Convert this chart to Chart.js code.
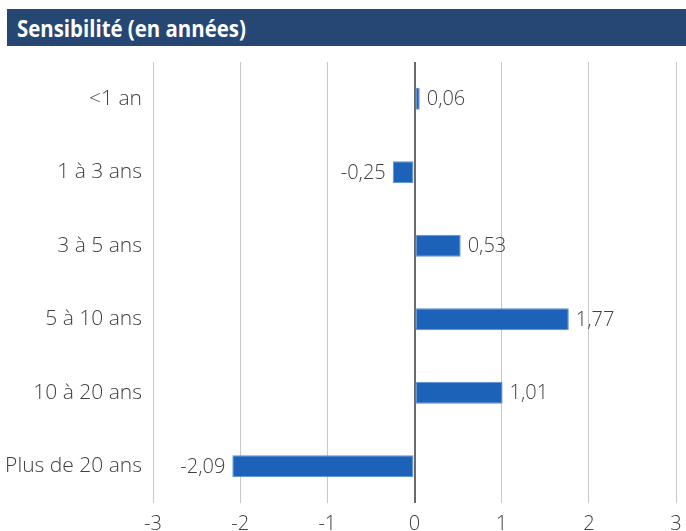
<!DOCTYPE html>
<html>
<head>
<meta charset="utf-8">
<script src="https://cdn.jsdelivr.net/npm/chart.js@4"></script>
<style>
  html, body { margin: 0; padding: 0; background: #fff; width: 686px; height: 531px; overflow: hidden; position: relative; }
  #hdr { position: absolute; left: 7px; top: 9px; width: 679px; height: 37px; background: #264673; overflow: hidden; }
  #hdr span { position: absolute; left: 10px; top: 0; line-height: 37px; color: #fff; white-space: nowrap;
         font-family: "Open Sans", sans-serif; font-weight: bold; font-size: 24px;
         transform: scaleX(0.85); transform-origin: 0 50%; }
  #wrap { position: absolute; left: 0; top: 50px; width: 686px; height: 488px; }
</style>
</head>
<body>
<div id="hdr"><span>Sensibilité (en années)</span></div>
<div id="wrap"><canvas id="c"></canvas></div>
<script>
const categories = ["<1 an", "1 à 3 ans", "3 à 5 ans", "5 à 10 ans", "10 à 20 ans", "Plus de 20 ans"];
const sensibilite = [0.06, -0.25, 0.53, 1.77, 1.01, -2.09];
const xTicks = [-3, -2, -1, 0, 1, 2, 3];

const fmt = v => v.toFixed(2).replace('.', ',');
const FONT = '"Open Sans", sans-serif';

const labelPlugin = {
  id: 'valueLabels',
  afterDatasetsDraw(chart) {
    const ctx = chart.ctx;
    const meta = chart.getDatasetMeta(0);
    ctx.save();
    ctx.font = '300 20px ' + FONT;
    ctx.fillStyle = '#404040';
    ctx.textBaseline = 'middle';
    meta.data.forEach((bar, i) => {
      const v = sensibilite[i];
      if (v >= 0) { ctx.textAlign = 'left'; ctx.fillText(fmt(v), bar.x + 7, bar.y + 1); }
      else { ctx.textAlign = 'right'; ctx.fillText(fmt(v), bar.x - 7, bar.y + 1); }
    });
    ctx.restore();
  }
};

new Chart(document.getElementById('c'), {
  type: 'bar',
  data: {
    labels: categories,
    datasets: [{
      data: sensibilite,
      backgroundColor: '#1c62b8',
      borderColor: '#5a92d4',
      borderWidth: 1,
      borderSkipped: false,
      barPercentage: 0.30,
      categoryPercentage: 1.0
    }]
  },
  options: {
    indexAxis: 'y',
    responsive: true,
    maintainAspectRatio: false,
    animation: false,
    layout: { padding: { top: 12, right: 10, left: 0, bottom: 0 } },
    plugins: { legend: { display: false }, tooltip: { enabled: false } },
    scales: {
      x: {
        min: -3, max: 3,
        afterBuildTicks: s => { s.ticks = xTicks.map(v => ({ value: v })); },
        afterFit: s => { s.height = 35; s.paddingLeft = 0; s.paddingRight = 0; },
        ticks: { font: { family: FONT, size: 20, weight: 300 }, color: '#404040', padding: 9,
                 callback: v => String(v) },
        grid: {
          color: c => (c.tick && c.tick.value === 0) ? '#6a6a6a' : '#c8c8c8',
          lineWidth: c => (c.tick && c.tick.value === 0) ? 2 : 1,
          drawTicks: false
        },
        border: { display: false }
      },
      y: {
        afterFit: s => { s.width = 153; s.paddingTop = 0; s.paddingBottom = 0; },
        ticks: { font: { family: FONT, size: 21, weight: 300 }, color: '#404040', padding: 11 },
        grid: { display: false, drawTicks: false },
        border: { display: false }
      }
    }
  },
  plugins: [labelPlugin]
});
</script>
</body>
</html>
